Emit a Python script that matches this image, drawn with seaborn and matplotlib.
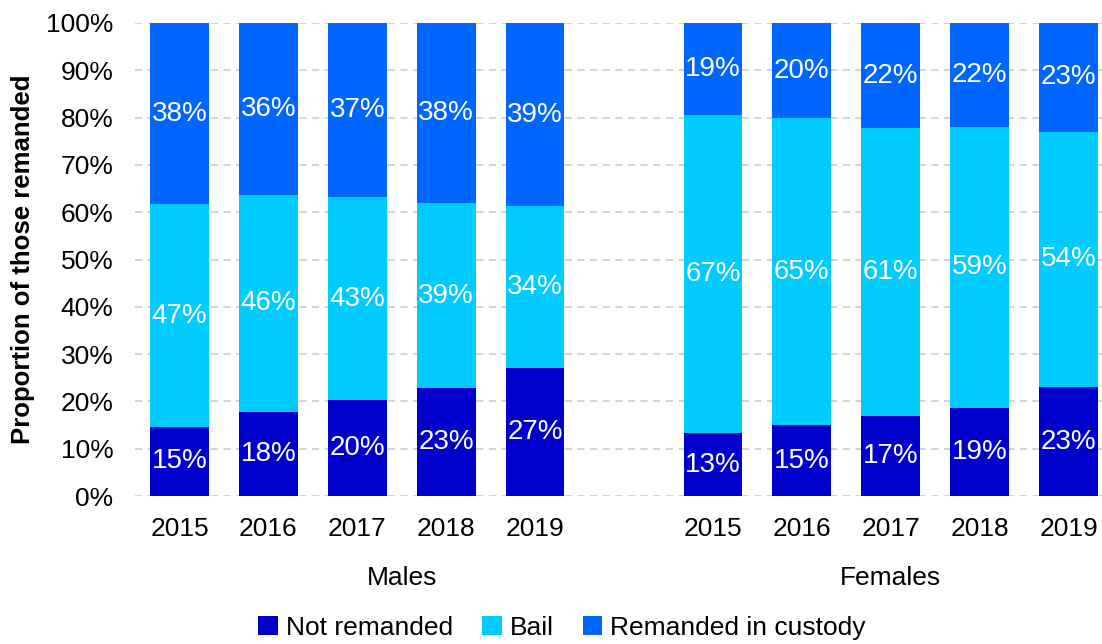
import matplotlib
matplotlib.use("Agg")
import matplotlib.pyplot as plt
from matplotlib.patches import Patch
from matplotlib.ticker import PercentFormatter
import matplotlib.transforms as mtransforms
import numpy as np
import pandas as pd
import seaborn as sns

# Remand outcomes by year and sex (percent of those remanded)
years = ["2015", "2016", "2017", "2018", "2019"]
groups = ["Males", "Females"]
not_remanded_m = [14.6, 17.8, 20.3, 22.8, 27.1]
bail_m = [47.1, 45.8, 42.9, 39.1, 34.2]
custody_m = [38.3, 36.4, 36.8, 38.1, 38.7]
not_remanded_f = [13.3, 15.0, 16.9, 18.7, 23.0]
bail_f = [67.3, 64.9, 60.9, 59.4, 54.0]
custody_f = [19.4, 20.1, 22.2, 21.9, 23.0]
series = ["Not remanded", "Bail", "Remanded in custody"]
colors = ["#0000CC", "#00CCFF", "#0066FF"]

sns.set_theme(style="white")
plt.rcParams["font.family"] = ["Liberation Sans", "DejaVu Sans"]
plt.rcParams["text.color"] = "black"
plt.rcParams["xtick.color"] = "black"
plt.rcParams["ytick.color"] = "black"
plt.rcParams["axes.labelcolor"] = "black"

# Males occupy slots 0-4, one empty slot, Females slots 6-10
positions = list(range(0, 5)) + list(range(6, 11))
df = pd.DataFrame({
    "pos": positions,
    "year": years + years,
    "Not remanded": not_remanded_m + not_remanded_f,
    "Bail": bail_m + bail_f,
    "Remanded in custody": custody_m + custody_f,
})
df["c1"] = df["Not remanded"]
df["c2"] = df["c1"] + df["Bail"]
df["c3"] = df["c2"] + df["Remanded in custody"]

fig = plt.figure(figsize=(11.02, 6.44), dpi=100)
ax = fig.add_axes([135 / 1102, 1 - 496 / 644, 978 / 1102, 473 / 644])

# Draw cumulative totals from the top layer down so each stack shows through
for col, color in zip(["c3", "c2", "c1"], colors[::-1]):
    sns.barplot(data=df, x="pos", y=col, native_scale=True, color=color,
                width=0.66, saturation=1, linewidth=0, ax=ax, zorder=3)

# Segment value labels
for _, row in df.iterrows():
    bottoms = [0, row["c1"], row["c2"]]
    for s, b in zip(series, bottoms):
        v = row[s]
        ax.text(row["pos"], b + v / 2, f"{round(v):.0f}%", ha="center", va="center",
                color="white", fontsize=20, zorder=5)

ax.set_xlim(-0.5, 10.5)
ax.set_ylim(0, 100)
ax.set_yticks(np.arange(0, 101, 10))
ax.yaxis.set_major_formatter(PercentFormatter(decimals=0))
ax.tick_params(axis="y", labelsize=19, length=0, pad=15.5)
ax.set_xticks(positions)
ax.set_xticklabels(years + years, fontsize=19)
ax.tick_params(axis="x", length=0, pad=15)
ax.set_xlabel("")
ax.set_ylabel("")
ax.grid(axis="y", color="#D0D0D0", linestyle=(0, (4, 3)), linewidth=1.3, zorder=0)
ax.grid(axis="x", visible=False)
for sp in ax.spines.values():
    sp.set_visible(False)

fig.text(23 / 1102, 1 - 259.5 / 644, "Proportion of those remanded", rotation=90,
         ha="center", va="center", fontsize=18.5, fontweight="bold")

# Group labels under the year ticks
trans = mtransforms.blended_transform_factory(ax.transData, fig.transFigure)
ax.text(2.5, 1 - 578 / 644, groups[0], transform=trans, ha="center", va="center", fontsize=19)
ax.text(8, 1 - 578 / 644, groups[1], transform=trans, ha="center", va="center", fontsize=19)

handles = [Patch(facecolor=c, edgecolor="none") for c in colors]
fig.legend(handles, series, loc="center", bbox_to_anchor=(562 / 1102, 1 - 628 / 644),
           ncol=3, frameon=False, fontsize=19, handlelength=0.75, handleheight=0.75,
           handletextpad=0.3, columnspacing=1.1, borderaxespad=0, borderpad=0)

fig.savefig("out.png", dpi=100)
